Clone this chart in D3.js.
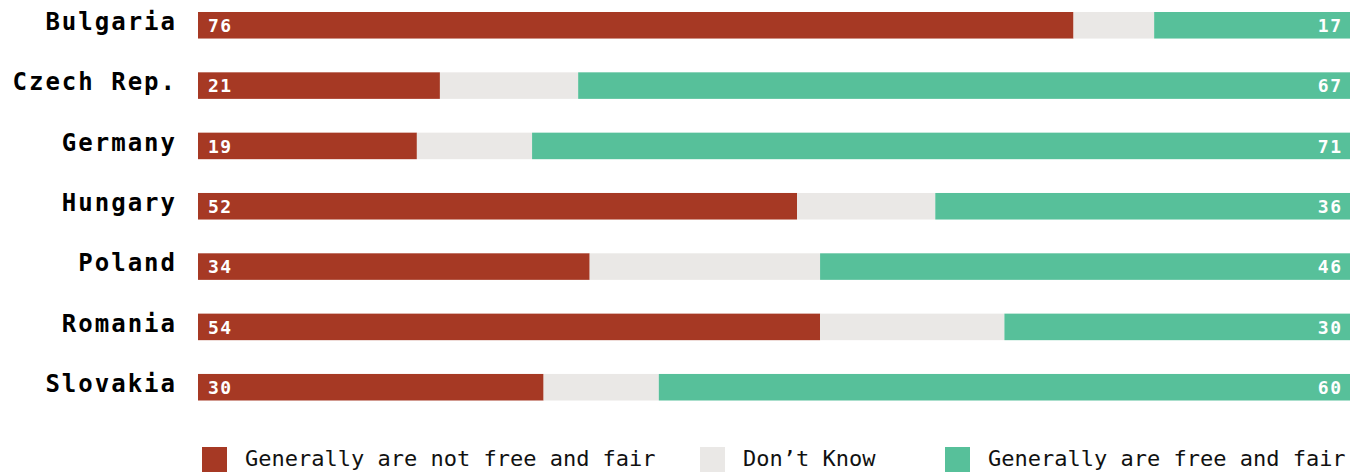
<!DOCTYPE html>
<html>
<head>
<meta charset="utf-8">
<script src="https://cdn.jsdelivr.net/npm/d3@7"></script>
<style>
  html, body { margin: 0; padding: 0; background: #fff; }
  svg { display: block; }
</style>
</head>
<body>
<svg id="chart" width="1360" height="472"></svg>
<script>
// Survey shares (%) per country; "Don't Know" is the remainder to 100.
const countries = ["Bulgaria", "Czech Rep.", "Germany", "Hungary", "Poland", "Romania", "Slovakia"];
const notFreeFair = [76, 21, 19, 52, 34, 54, 30];
const freeFair = [17, 67, 71, 36, 46, 30, 60];
const seriesNames = ["Generally are not free and fair", "Don\u2019t Know", "Generally are free and fair"];
const seriesColors = ["#a63924", "#eae8e6", "#57c09a"];

const rows = countries.map((c, i) => ({
  country: c,
  notFree: notFreeFair[i],
  dontKnow: 100 - notFreeFair[i] - freeFair[i],
  free: freeFair[i]
}));

const svg = d3.select("#chart");
const monoFont = "'DejaVu Sans Mono', monospace";

const x = d3.scaleLinear().domain([0, 100]).range([198, 1350]);
const y = d3.scaleBand().domain(countries).range([12, 400.5]).paddingInner(0.56).paddingOuter(0);

const stack = d3.stack().keys(["notFree", "dontKnow", "free"]);
const layers = stack(rows);

svg.append("g").selectAll("g")
  .data(layers)
  .join("g")
  .attr("fill", (d, i) => seriesColors[i])
  .selectAll("rect")
  .data(d => d)
  .join("rect")
  .attr("x", d => x(d[0]))
  .attr("width", d => x(d[1]) - x(d[0]))
  .attr("y", d => y(d.data.country))
  .attr("height", y.bandwidth());

// Country names
svg.append("g").selectAll("text")
  .data(rows)
  .join("text")
  .attr("x", 177)
  .attr("y", d => y(d.country) + 18)
  .attr("text-anchor", "end")
  .attr("font-family", monoFont)
  .attr("font-weight", "bold")
  .attr("font-size", 24)
  .attr("letter-spacing", 2)
  .attr("fill", "#000")
  .text(d => d.country);

// Value labels inside bars
const vals = svg.append("g")
  .attr("font-family", monoFont)
  .attr("font-weight", "bold")
  .attr("font-size", 18)
  .attr("letter-spacing", 1.5)
  .attr("fill", "#fff");

vals.selectAll("text.left")
  .data(rows)
  .join("text")
  .attr("class", "left")
  .attr("x", x(0) + 10)
  .attr("y", d => y(d.country) + 20)
  .text(d => d.notFree);

vals.selectAll("text.right")
  .data(rows)
  .join("text")
  .attr("class", "right")
  .attr("x", x(100) - 7.5)
  .attr("y", d => y(d.country) + 20)
  .attr("text-anchor", "end")
  .text(d => d.free);

// Legend
const legendX = [202, 700, 945];
const legend = svg.append("g").selectAll("g")
  .data(seriesNames)
  .join("g")
  .attr("transform", (d, i) => `translate(${legendX[i]},447)`);

legend.append("rect")
  .attr("width", 25)
  .attr("height", 25)
  .attr("fill", (d, i) => seriesColors[i]);

legend.append("text")
  .attr("x", 43)
  .attr("y", 19)
  .attr("font-family", monoFont)
  .attr("font-size", 22)
  .attr("fill", "#111")
  .text(d => d);
</script>
</body>
</html>
